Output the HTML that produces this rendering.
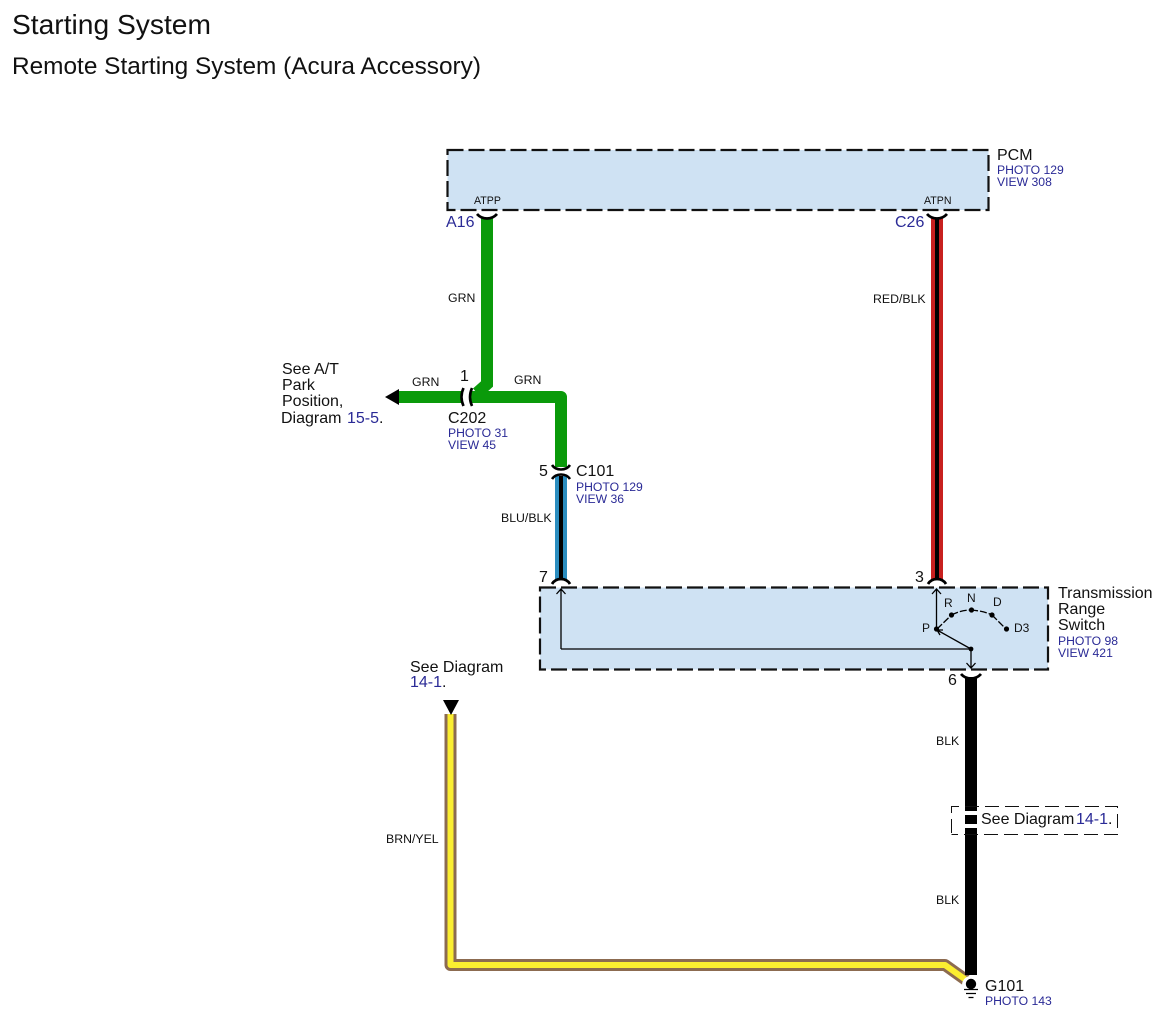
<!DOCTYPE html>
<html>
<head>
<meta charset="utf-8">
<style>
html,body{margin:0;padding:0;background:#fff;width:1166px;height:1023px;overflow:hidden}
svg{display:block}
text{font-family:"Liberation Sans",sans-serif;fill:#111}
.b{fill:#2a2a96}
.s{font-size:12.2px}
.m{font-size:16px}
.w{font-size:12.3px}
</style>
</head>
<body>
<svg width="1166" height="1023" viewBox="0 0 1166 1023" xmlns="http://www.w3.org/2000/svg">
<text x="12" y="34" font-size="28.2">Starting System</text>
<text x="12" y="74" font-size="24.4">Remote Starting System (Acura Accessory)</text>

<!-- boxes -->
<rect x="447.5" y="150" width="541" height="60" fill="#cfe2f3"/>
<rect x="447.5" y="150" width="541" height="60" fill="none" stroke="#111" stroke-width="2.2" stroke-dasharray="16 5"/>
<rect x="540" y="587.5" width="508" height="82" fill="#cfe2f3"/>
<rect x="540" y="587.5" width="508" height="82" fill="none" stroke="#111" stroke-width="2.2" stroke-dasharray="16 5"/>

<!-- green wires -->
<path d="M487 218V384L477 393" fill="none" stroke="#0a9a0a" stroke-width="12"/>
<path d="M398 397H461" fill="none" stroke="#0a9a0a" stroke-width="12"/>
<path d="M470 397H561V467" fill="none" stroke="#0a9a0a" stroke-width="12" stroke-linejoin="round"/>
<polygon points="385,397 399,389 399,405" fill="#000"/>

<!-- C202 connector -->
<path d="M463.5 388Q459.5 397 463.5 406M472 388Q468 397 472 406" fill="none" stroke="#000" stroke-width="2.6"/>

<!-- blue wire -->
<rect x="555" y="476" width="12" height="104" fill="#2b8dbf"/>
<rect x="559" y="476" width="4" height="104" fill="#000"/>
<path d="M552 465Q555 469.5 561 469.5Q567 469.5 570 465M552 479Q555 474.5 561 474.5Q567 474.5 570 479" fill="none" stroke="#000" stroke-width="2.6"/>
<path d="M552 584Q555 579 561 579Q567 579 570 584" fill="none" stroke="#000" stroke-width="2.8"/>

<!-- red wire -->
<rect x="931" y="218" width="12" height="362" fill="#c8201f"/>
<rect x="935" y="218" width="4" height="362" fill="#000"/>
<path d="M477 214Q481 218.5 487 218.5Q493 218.5 497 214" fill="none" stroke="#000" stroke-width="2.8"/>
<path d="M927 214Q931 218.5 937 218.5Q943 218.5 947 214" fill="none" stroke="#000" stroke-width="2.8"/>
<path d="M928 584Q931 579 937 579Q943 579 946 584" fill="none" stroke="#000" stroke-width="2.8"/>

<!-- brown/yellow wire -->
<path d="M450.5 714V965H945L966 980" fill="none" stroke="#8c6b50" stroke-width="12" stroke-linejoin="round"/>
<path d="M450.5 714V965H945L966 980" fill="none" stroke="#fbee30" stroke-width="6" stroke-linejoin="round"/>
<polygon points="443,700 459,700 451,715" fill="#000"/>

<!-- black wire -->
<rect x="965" y="677" width="12" height="134" fill="#000"/>
<rect x="965" y="815" width="12" height="9" fill="#000"/>
<rect x="965" y="828" width="12" height="147" fill="#000"/>
<path d="M961 674Q965 678.5 971 678.5Q977 678.5 981 674" fill="none" stroke="#000" stroke-width="2.8"/>

<!-- ground -->
<circle cx="971" cy="985" r="9" fill="#fff"/>
<circle cx="971" cy="984" r="5.2" fill="#000"/>
<path d="M964 989.5H978M966 993.5H976M968.5 997.5H973.5" stroke="#000" stroke-width="1.3"/>

<!-- internal switch -->
<g fill="none" stroke="#000" stroke-width="1.3">
<path d="M561 649H971"/>
<path d="M561 649V589M556.5 594L561 589L565.5 594"/>
<path d="M936.5 629V589M932 594L936.5 589L941 594"/>
<path d="M971 649V668M966.5 663L971 668L975.5 663"/>
<path d="M971 649L937 630M943 630L937 630L940 635"/>
<path d="M937 629L951.5 615M951.5 615Q961 610 971 610M971 610Q984 611 992 615M992 615L1006 629" stroke-dasharray="7 2"/>
</g>
<g fill="#000">
<circle cx="936.5" cy="629" r="2.6"/>
<circle cx="951.5" cy="615" r="2.6"/>
<circle cx="971.5" cy="610" r="2.6"/>
<circle cx="992" cy="615" r="2.6"/>
<circle cx="1006.5" cy="629" r="2.6"/>
<circle cx="971" cy="649" r="2.4"/>
</g>
<text x="944" y="607" font-size="12">R</text>
<text x="967" y="602" font-size="12">N</text>
<text x="993" y="606" font-size="12">D</text>
<text x="922" y="632" font-size="12">P</text>
<text x="1014" y="632" font-size="12">D3</text>

<!-- See Diagram dashed box -->
<path d="M951.5 833V806.5H1117.5V834.5H951.5" fill="none" stroke="#111" stroke-width="1" stroke-dasharray="14 6"/>
<text x="981" y="824" class="m">See Diagram</text>
<text x="1076" y="824" class="m b">14-1</text>
<text x="1108" y="824" class="m">.</text>

<!-- PCM labels -->
<text x="997" y="160" class="m">PCM</text>
<text x="997" y="174" class="s b">PHOTO 129</text>
<text x="997" y="186" class="s b">VIEW 308</text>
<text x="474" y="204" font-size="10.6">ATPP</text>
<text x="924" y="204" font-size="10.6">ATPN</text>
<text x="446" y="227" class="m b">A16</text>
<text x="895" y="227" class="m b">C26</text>

<!-- wire labels -->
<text x="448" y="302" class="w">GRN</text>
<text x="873" y="303" class="w">RED/BLK</text>
<text x="412" y="386" class="w">GRN</text>
<text x="514" y="384" class="w">GRN</text>
<text x="501" y="522" class="w">BLU/BLK</text>
<text x="936" y="745" class="w">BLK</text>
<text x="936" y="904" class="w">BLK</text>
<text x="386" y="843" class="w">BRN/YEL</text>

<!-- C202 -->
<text x="460" y="381" class="m">1</text>
<text x="448" y="423" class="m">C202</text>
<text x="448" y="437" class="s b">PHOTO 31</text>
<text x="448" y="449" class="s b">VIEW 45</text>

<!-- See A/T -->
<text x="282" y="374" class="m">See A/T</text>
<text x="282" y="390" class="m">Park</text>
<text x="282" y="406" class="m">Position,</text>
<text x="281" y="423" class="m">Diagram</text>
<text x="347" y="423" class="m b">15-5</text>
<text x="379" y="423" class="m">.</text>

<!-- C101 -->
<text x="539" y="476" class="m">5</text>
<text x="576" y="476" class="m">C101</text>
<text x="576" y="491" class="s b">PHOTO 129</text>
<text x="576" y="503" class="s b">VIEW 36</text>
<text x="539" y="582" class="m">7</text>
<text x="915" y="582" class="m">3</text>
<text x="948" y="685" class="m">6</text>

<!-- Trans switch -->
<text x="1058" y="598" class="m">Transmission</text>
<text x="1058" y="614" class="m">Range</text>
<text x="1058" y="630" class="m">Switch</text>
<text x="1058" y="645" class="s b">PHOTO 98</text>
<text x="1058" y="657" class="s b">VIEW 421</text>

<!-- See Diagram 14-1 -->
<text x="410" y="672" class="m">See Diagram</text>
<text x="410" y="687" class="m b">14-1</text>
<text x="442" y="687" class="m">.</text>

<!-- G101 -->
<text x="985" y="991" class="m">G101</text>
<text x="985" y="1005" class="s b">PHOTO 143</text>
</svg>
</body>
</html>
